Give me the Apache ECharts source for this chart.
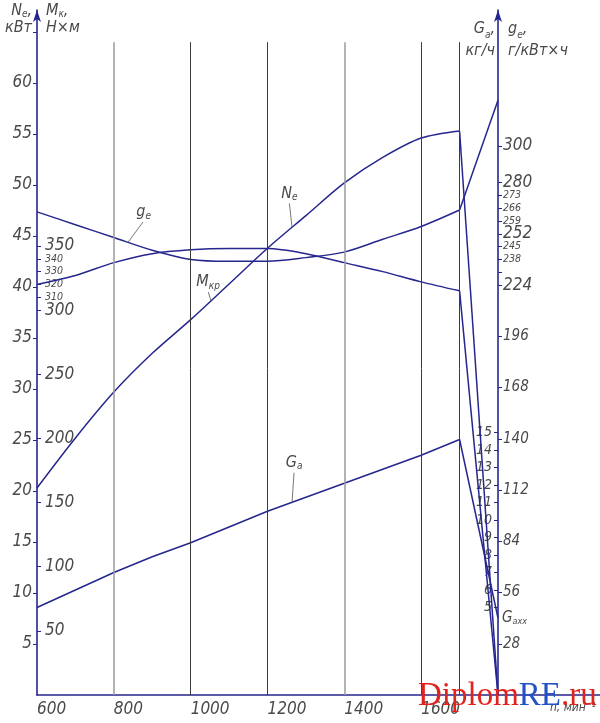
<!DOCTYPE html>
<html>
<head>
<meta charset="utf-8">
<title>Внешняя скоростная характеристика</title>
<script src="https://cdn.jsdelivr.net/npm/echarts@6/dist/echarts.min.js"></script>
<style>
  html, body { margin: 0; padding: 0; background: #fff; }
  #main { width: 600px; height: 723px; }
</style>
</head>
<body>
<div id="main"></div>
<script type="text/javascript">
// частота вращения коленвала, мин-1
var rpm = [600, 700, 800, 900, 1000, 1100, 1200, 1300, 1400, 1500, 1600, 1700];
// эффективная мощность Ne, кВт
var ne = [20.3, 25.2, 29.7, 33.5, 36.8, 40.3, 43.8, 47.0, 50.2, 52.7, 54.6, 55.3];
// крутящий момент Mк, Н*м
var mk = [320, 327, 337, 344, 347, 348, 348, 344, 337, 330, 322, 315];
// удельный расход топлива ge, г/кВт*ч
var ge = [264, 257, 250, 243, 238, 237, 237, 239, 242, 249, 256, 265];
// часовой расход топлива Ga, кг/ч
var ga = [5.0, 6.0, 7.0, 7.9, 8.7, 9.6, 10.5, 11.3, 12.1, 12.9, 13.7, 14.6];

// регуляторная ветвь
var rpmReg = [1700, 1800];
var neReg = [55.3, 0];
var mkReg = [315, 0];
var geReg = [265, 325];
var gaReg = [14.6, 4.4];

// подписи шкал
var xLabels = [600, 800, 1000, 1200, 1400, 1600];
var gridRpm = [800, 1000, 1200, 1400, 1600, 1700];
var neTicks = [5, 10, 15, 20, 25, 30, 35, 40, 45, 50, 55, 60, 65];
var neLabels = [5, 10, 15, 20, 25, 30, 35, 40, 45, 50, 55, 60];
var mkLabels = [50, 100, 150, 200, 250, 300, 350];
var mkSmall = [310, 320, 330, 340];
var geBig = [224, 252, 280, 300];
var geMid = [28, 56, 84, 112, 140, 168, 196];
var geSmall = [238, 245, 259, 266, 273];
var geExtraTicks = [231];
var gaLabels = [5, 6, 7, 8, 9, 10, 11, 12, 13, 14, 15];

// геометрия листа
var X0 = 37, X1 = 498, Y0 = 695, TOP = 10, W = 600;
var plotH = Y0 - TOP;
var pxRpm = (X1 - X0) / 1200;
var pxNe = 10.2, pxMk = 1.283, pxGe = 1.83, pxGa = 17.5;

var BLUE = '#26268f';
var TXT = '#4a4a4a';
var FONT = "'DejaVu Sans Condensed', 'Liberation Sans Narrow', 'DejaVu Sans', sans-serif";

function pairs(xs, ys) {
    return xs.map(function (x, i) { return [x, ys[i]]; });
}
function rich(fs, lh) {
    return {
        i: { fontFamily: FONT, fontStyle: 'italic', fontSize: fs, color: TXT, lineHeight: lh || fs + 2 },
        s: { fontFamily: FONT, fontStyle: 'italic', fontSize: Math.round(fs * 0.62), color: TXT,
             verticalAlign: 'bottom', lineHeight: Math.round(fs * 0.62) },
        b: { fontFamily: FONT, fontStyle: 'italic', fontSize: 17, color: TXT },
        m: { fontFamily: FONT, fontStyle: 'italic', fontSize: 15, color: TXT },
        t: { fontFamily: FONT, fontStyle: 'italic', fontSize: 10.5, color: TXT }
    };
}
function inList(list, v) {
    return list.some(function (x) { return Math.abs(x - v) < 1e-6; });
}
function leader(p1, p2, text) {
    return [
        { coord: p1, lineStyle: { color: '#555', width: 0.8, type: 'solid' },
          label: { show: true, position: 'end', distance: 1, formatter: function () { return text; }, rich: rich(16) } },
        { coord: p2 }
    ];
}

var lineStyle = { color: BLUE, width: 1.5 };

var myChart = echarts.init(document.getElementById('main'));

var option = {
    animation: false,
    backgroundColor: '#fff',
    grid: { left: X0, right: 0, top: TOP, bottom: 723 - Y0, containLabel: false, outerBoundsMode: 'none' },
    xAxis: {
        type: 'value',
        min: 600,
        max: 600 + (W - X0) / pxRpm,
        interval: 200,
        name: 'n, мин⁻¹',
        nameLocation: 'end',
        nameGap: -50,
        nameTextStyle: { align: 'left', verticalAlign: 'top', padding: [7, 0, 0, 0],
                         fontFamily: FONT, fontStyle: 'italic', fontSize: 12, color: TXT },
        axisLine: { show: true, lineStyle: { color: BLUE, width: 1.6 } },
        axisTick: { show: false },
        splitLine: { show: false },
        axisLabel: {
            margin: 6, align: 'left',
            fontFamily: FONT, fontStyle: 'italic', fontSize: 17, color: TXT,
            formatter: function (v) { return inList(xLabels, v) ? String(v) : ''; }
        }
    },
    yAxis: [
        {   // Ne
            type: 'value', position: 'left', min: 0, max: plotH / pxNe,
            name: '{i|N}{s|e}{i|,}\n{i|кВт}',
            nameLocation: 'end', nameGap: 8,
            nameTextStyle: { align: 'right', verticalAlign: 'top', padding: [0, 5, 0, 0], rich: rich(16, 17) },
            axisLine: { show: true, lineStyle: { color: BLUE, width: 1.6 }, symbol: ['none', 'arrow'], symbolSize: [6, 12] },
            axisTick: { show: true, length: 4, lineStyle: { color: BLUE }, customValues: neTicks },
            axisLabel: { margin: 5, fontFamily: FONT, fontStyle: 'italic', fontSize: 17, color: TXT, customValues: neLabels },
            splitLine: { show: false }
        },
        {   // Mк
            type: 'value', position: 'left', min: 0, max: plotH / pxMk,
            name: '{i|M}{s|к}{i|,}\n{i|Н×м}',
            nameLocation: 'end', nameGap: 8,
            nameTextStyle: { align: 'left', verticalAlign: 'top', padding: [0, 0, 0, 9], rich: rich(16, 17) },
            axisLine: { show: false },
            axisTick: { show: true, inside: true, length: 4, lineStyle: { color: BLUE }, customValues: mkLabels.concat(mkSmall) },
            axisLabel: {
                inside: true, margin: 8, customValues: mkLabels.concat(mkSmall), rich: rich(16),
                formatter: function (v) { return inList(mkSmall, v) ? '{t|' + v + '}' : '{b|' + v + '}'; }
            },
            splitLine: { show: false }
        },
        {   // ge
            type: 'value', position: 'right', offset: -(W - X1), min: 0, max: plotH / pxGe,
            name: '{i|g}{s|e}{i|,}\n{i|г/кВт×ч}',
            nameLocation: 'end', nameGap: 0,
            nameTextStyle: { align: 'left', verticalAlign: 'top', padding: [8, 0, 0, 10], rich: rich(16, 22) },
            axisLine: { show: true, lineStyle: { color: BLUE, width: 1.6 }, symbol: ['none', 'arrow'], symbolSize: [6, 12] },
            axisTick: { show: true, length: 4, lineStyle: { color: BLUE },
                        customValues: geBig.concat(geMid, geSmall, geExtraTicks) },
            axisLabel: {
                margin: 5, customValues: geBig.concat(geMid, geSmall), rich: rich(16),
                formatter: function (v) {
                    if (inList(geSmall, v)) return '{t|' + v + '}';
                    if (inList(geMid, v)) return '{m|' + v + '}';
                    return '{b|' + v + '}';
                }
            },
            splitLine: { show: false }
        },
        {   // Ga
            type: 'value', position: 'right', offset: -(W - X1), min: 0, max: plotH / pxGa,
            name: '{i|G}{s|a}{i|,}\n{i|кг/ч}',
            nameLocation: 'end', nameGap: 0,
            nameTextStyle: { align: 'right', verticalAlign: 'top', padding: [8, 3, 0, 0], rich: rich(16, 22) },
            axisLine: { show: false },
            axisTick: { show: true, inside: true, length: 4, lineStyle: { color: BLUE }, customValues: gaLabels },
            axisLabel: { inside: true, margin: 6, fontFamily: FONT, fontStyle: 'italic', fontSize: 14, color: TXT, customValues: gaLabels },
            splitLine: { show: false }
        }
    ],
    series: [
        {
            name: 'Ne', type: 'line', yAxisIndex: 0, data: pairs(rpm, ne),
            smooth: 0.3, symbol: 'none', lineStyle: lineStyle, z: 3,
            markLine: {
                silent: true, symbol: 'none', animation: false,
                label: { show: false },
                data: gridRpm.map(function (r) {
                    var light = (r === 800 || r === 1400);
                    return [
                        { coord: [r, 0], label: { show: false },
                          lineStyle: { color: light ? '#9a9a9a' : '#3c3c3c', width: light ? 1.5 : 1, type: 'solid' } },
                        { coord: [r, 64] }
                    ];
                }).concat([
                    leader([1264, 45.8], [1257, 48.2], '{i|N}{s|e}'),
                    leader([1053, 38.6], [1046, 39.5], '{i|M}{s|кр}')
                ])
            }
        },
        { name: 'Ne рег.', type: 'line', yAxisIndex: 0, data: pairs(rpmReg, neReg), symbol: 'none', lineStyle: lineStyle, z: 3 },
        { name: 'Mк', type: 'line', yAxisIndex: 1, data: pairs(rpm, mk),
          smooth: 0.3, symbol: 'none', lineStyle: lineStyle, z: 3 },
        { name: 'Mк рег.', type: 'line', yAxisIndex: 1, data: pairs(rpmReg, mkReg), symbol: 'none', lineStyle: lineStyle, z: 3 },
        {
            name: 'ge', type: 'line', yAxisIndex: 2, data: pairs(rpm, ge),
            smooth: 0.3, symbol: 'none', lineStyle: lineStyle, z: 3,
            markLine: { silent: true, symbol: 'none', animation: false,
                        data: [leader([837, 247.4], [876, 258.5], '{i|g}{s|e}')] }
        },
        { name: 'ge рег.', type: 'line', yAxisIndex: 2, data: pairs(rpmReg, geReg), symbol: 'none', lineStyle: lineStyle, z: 3 },
        {
            name: 'Ga', type: 'line', yAxisIndex: 3, data: pairs(rpm, ga),
            symbol: 'none', lineStyle: lineStyle, z: 3,
            markLine: { silent: true, symbol: 'none', animation: false,
                        data: [leader([1264, 11.0], [1269, 12.7], '{i|G}{s|a}')] }
        },
        {
            name: 'Ga рег.', type: 'line', yAxisIndex: 3, data: pairs(rpmReg, gaReg),
            symbol: 'none', lineStyle: lineStyle, z: 3,
            endLabel: { show: true, distance: 4, rich: rich(15),
                        formatter: function () { return '{i|G}{s|axx}'; } }
        }
    ],
    graphic: [{
        type: 'text', left: 418, top: 680, z: 100, silent: true,
        style: {
            text: '{r|Diplom}{b|RE}{r|.ru}',
            rich: {
                r: { fill: '#e2231d', fontSize: 33, fontFamily: "'Liberation Serif', 'DejaVu Serif', serif" },
                b: { fill: '#2352c4', fontSize: 33, fontFamily: "'Liberation Serif', 'DejaVu Serif', serif" }
            }
        }
    }]
};

myChart.setOption(option);
</script>
</body>
</html>
